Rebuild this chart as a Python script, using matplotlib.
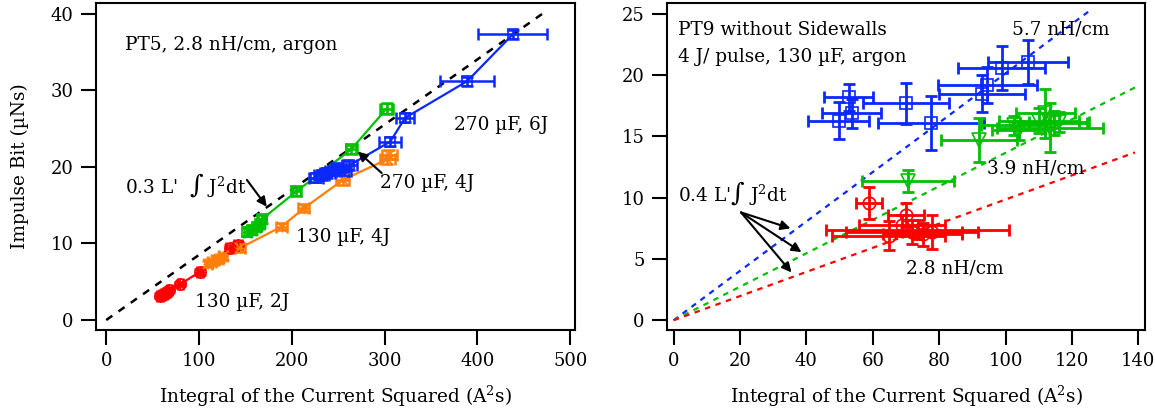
import numpy as np
import matplotlib
matplotlib.use("Agg")
import matplotlib.pyplot as plt

plt.rcParams['font.family'] = ['DejaVu Serif']
plt.rcParams['mathtext.fontset'] = 'dejavuserif'

# ---------------- Panel 1 data (PT5) ----------------
red1_x = [58, 60, 62, 64, 66, 68, 80, 101, 133, 142]
red1_y = [3.2, 3.3, 3.4, 3.5, 3.7, 3.9, 4.7, 6.3, 9.4, 9.8]
red1_xerr = [3, 3, 3, 3, 3, 3, 3, 3, 4, 4]
red1_yerr = [0.3, 0.3, 0.3, 0.3, 0.3, 0.3, 0.3, 0.4, 0.4, 0.4]

orange1_x = [110, 114, 118, 122, 126, 144, 189, 213, 255, 303, 305]
orange1_y = [7.3, 7.6, 7.8, 8.0, 8.3, 9.4, 12.2, 14.6, 18.3, 21.0, 21.6]
orange1_xerr = [4, 4, 4, 4, 4, 5, 6, 6, 7, 8, 8]
orange1_yerr = [0.4, 0.4, 0.4, 0.4, 0.4, 0.5, 0.5, 0.5, 0.6, 0.6, 0.6]

green1_x = [152, 157, 162, 166, 168, 205, 264, 302]
green1_y = [11.5, 11.8, 12.2, 12.6, 13.2, 16.8, 22.3, 27.6]
green1_xerr = [4, 4, 4, 4, 4, 5, 6, 7]
green1_yerr = [0.5, 0.5, 0.5, 0.5, 0.5, 0.6, 0.6, 0.7]

blue1_x = [226, 232, 238, 244, 250, 256, 262, 306, 322, 389, 438]
blue1_y = [18.6, 18.9, 19.2, 19.5, 19.8, 19.4, 20.2, 23.3, 26.4, 31.2, 37.3]
blue1_xerr = [8, 8, 8, 8, 8, 8, 8, 12, 10, 29, 37]
blue1_yerr = [0.6, 0.6, 0.6, 0.6, 0.6, 0.6, 0.6, 0.6, 0.6, 0.6, 0.6]

ref1_x = [0, 470]
ref1_y = [0, 40]

# ---------------- Panel 2 data (PT9) ----------------
blue2_x = [52.7, 49.7, 53.6, 70.0, 77.6, 93.0, 94.5, 98.8, 106.7]
blue2_y = [18.2, 16.3, 16.9, 17.7, 16.1, 18.5, 19.2, 20.6, 21.1]
blue2_xerr = [7.3, 9.2, 9.0, 13.0, 16.0, 13.0, 15.0, 13.0, 12.0]
blue2_yerr = [1.1, 1.5, 1.2, 1.7, 2.2, 1.5, 1.5, 1.8, 1.8]

green2_x = [70.6, 92.0, 102.5, 104.0, 110.0, 112.0, 113.5, 114.5, 116.0]
green2_y = [11.4, 14.7, 15.9, 15.5, 16.3, 16.9, 15.7, 16.1, 16.2]
green2_xerr = [14.0, 11.5, 10.0, 8.0, 12.0, 9.0, 16.0, 10.0, 9.0]
green2_yerr = [0.9, 1.8, 0.8, 0.8, 1.0, 2.0, 2.0, 1.0, 0.8]

red2_x = [58.8, 70.0, 64.8, 68.8, 71.8, 73.5, 77.9, 75.0]
red2_y = [9.6, 8.6, 6.9, 7.8, 7.2, 7.4, 7.2, 7.0]
red2_xerr = [4.0, 5.3, 17.0, 13.0, 20.0, 27.5, 9.0, 12.0]
red2_yerr = [1.3, 1.0, 1.2, 0.8, 1.0, 0.8, 1.4, 0.9]

ref2_blue_x = [0, 125]
ref2_blue_y = [0, 25.2]
ref2_green_x = [0, 139]
ref2_green_y = [0, 19.0]
ref2_red_x = [0, 139]
ref2_red_y = [0, 13.7]

BLUE = '#0a28ff'
RED = '#ff0000'
GREEN = '#00c000'
ORANGE = '#ff7f0a'

fig = plt.figure(figsize=(11.55, 4.16), dpi=100)
ax1 = fig.add_axes([0.0831, 0.2067, 0.4147, 0.7861])
ax2 = fig.add_axes([0.5775, 0.2067, 0.4138, 0.7861])

FS = 13.3


def style_axes(ax):
    for s in ax.spines.values():
        s.set_linewidth(1.5)
    ax.tick_params(direction='out', length=11, width=1.5, labelsize=13,
                   top=False, right=False, pad=5)


def series(ax, x, y, xerr, yerr, color, marker, ms, cross=True, line=False, elw=1.8):
    if line:
        order = np.argsort(x)
        ax.plot(np.array(x)[order], np.array(y)[order], color=color, lw=1.6, zorder=2)
    ax.errorbar(x, y, xerr=xerr, yerr=yerr, fmt='none', ecolor=color,
                elinewidth=elw, capsize=4, capthick=elw, zorder=3)
    ax.plot(x, y, linestyle='none', marker=marker, ms=ms, mfc='none',
            mec=color, mew=1.2, zorder=4)
    if cross:
        ax.plot(x, y, linestyle='none', marker='+', ms=ms, mec=color,
                mew=1.0, zorder=4)


# ---------- Panel 1 ----------
ax1.plot(ref1_x, ref1_y, color='black', ls=(0, (3, 3)), lw=1.8, zorder=1)
series(ax1, red1_x, red1_y, red1_xerr, red1_yerr, RED, 'o', 8, line=True)
series(ax1, orange1_x, orange1_y, orange1_xerr, orange1_yerr, ORANGE, 'x', 7, line=True)
series(ax1, green1_x, green1_y, green1_xerr, green1_yerr, GREEN, 's', 7, line=True)
series(ax1, blue1_x, blue1_y, blue1_xerr, blue1_yerr, BLUE, 's', 7, line=True)

ax1.set_xlim(-11, 505)
ax1.set_ylim(-1.3, 41.4)
ax1.set_xticks([0, 100, 200, 300, 400, 500])
ax1.set_yticks([0, 10, 20, 30, 40])
style_axes(ax1)
ax1.set_xlabel('Integral of the Current Squared (A$^2$s)', fontsize=FS, labelpad=10)
ax1.set_ylabel('Impulse Bit (\u00b5Ns)', fontsize=FS, labelpad=16)

ax1.text(20.4, 35.9, 'PT5, 2.8 nH/cm, argon', fontsize=FS, va='center', ha='left')
ax1.text(375, 25.5, '270 \u00b5F, 6J', fontsize=FS, va='center', ha='left')
ax1.text(295, 17.9, '270 \u00b5F, 4J', fontsize=FS, va='center', ha='left')
ax1.text(205, 10.8, '130 \u00b5F, 4J', fontsize=FS, va='center', ha='left')
ax1.text(96, 2.35, '130 \u00b5F, 2J', fontsize=FS, va='center', ha='left')
ax1.text(20, 17.6, "0.3 L'  $\\int$ J$^2$dt", fontsize=FS, va='center', ha='left')
ax1.annotate('', xy=(173, 14.8), xytext=(151.6, 18.3),
             arrowprops=dict(arrowstyle='-|>', color='black', lw=1.5,
                             mutation_scale=14, shrinkA=0, shrinkB=0))
ax1.annotate('', xy=(271, 22.0), xytext=(296.8, 19.2),
             arrowprops=dict(arrowstyle='-|>', color='black', lw=1.5,
                             mutation_scale=14, shrinkA=0, shrinkB=0))

# ---------- Panel 2 ----------
ax2.plot(ref2_blue_x, ref2_blue_y, color=BLUE, ls=(0, (2.5, 2.5)), lw=1.6, zorder=1)
ax2.plot(ref2_green_x, ref2_green_y, color=GREEN, ls=(0, (2.5, 2.5)), lw=1.6, zorder=1)
ax2.plot(ref2_red_x, ref2_red_y, color=RED, ls=(0, (2.5, 2.5)), lw=1.6, zorder=1)
series(ax2, blue2_x, blue2_y, blue2_xerr, blue2_yerr, BLUE, 's', 9, cross=False, elw=2.0)
series(ax2, green2_x, green2_y, green2_xerr, green2_yerr, GREEN, 'v', 10, cross=False, elw=2.0)
series(ax2, red2_x, red2_y, red2_xerr, red2_yerr, RED, 'o', 9, cross=False, elw=2.0)

ax2.set_xlim(-2, 142)
ax2.set_ylim(-0.8, 25.9)
ax2.set_xticks([0, 20, 40, 60, 80, 100, 120, 140])
ax2.set_yticks([0, 5, 10, 15, 20, 25])
style_axes(ax2)
ax2.set_xlabel('Integral of the Current Squared (A$^2$s)', fontsize=FS, labelpad=10)

ax2.text(1.2, 23.7, 'PT9 without Sidewalls', fontsize=FS, va='center', ha='left')
ax2.text(1.2, 21.5, '4 J/ pulse, 130 \u00b5F, argon', fontsize=FS, va='center', ha='left')
ax2.text(102, 23.7, '5.7 nH/cm', fontsize=FS, va='center', ha='left')
ax2.text(94.5, 12.4, '3.9 nH/cm', fontsize=FS, va='center', ha='left')
ax2.text(70, 4.25, '2.8 nH/cm', fontsize=FS, va='center', ha='left')
ax2.text(1.2, 10.4, "0.4 L'$\\int$ J$^2$dt", fontsize=FS, va='center', ha='left')
for hx, hy in [(35.2, 7.5), (38.5, 5.56), (35.5, 3.9)]:
    ax2.annotate('', xy=(hx, hy), xytext=(20.3, 8.8),
                 arrowprops=dict(arrowstyle='-|>', color='black', lw=1.5,
                                 mutation_scale=14, shrinkA=0, shrinkB=0))

fig.savefig('out.png', dpi=100)
